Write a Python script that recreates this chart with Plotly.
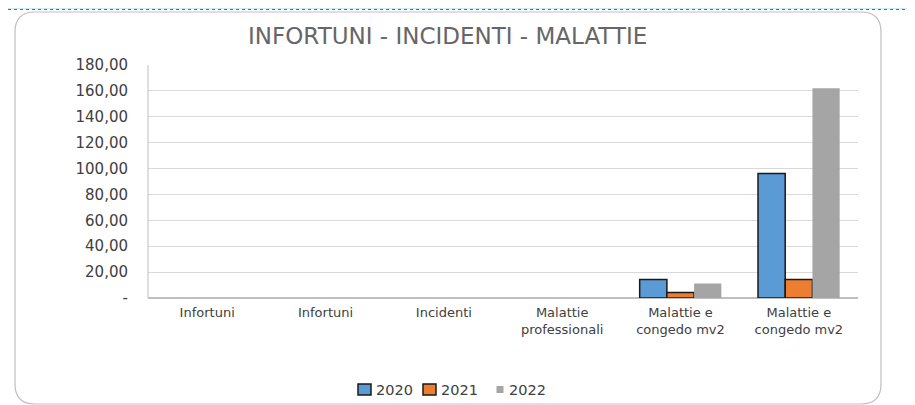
import plotly.graph_objects as go

categories = ["Infortuni", "Infortuni", "Incidenti", "Malattie<br>professionali",
              "Malattie e<br>congedo mv2", "Malattie e<br>congedo mv2"]
years = ["2020", "2021", "2022"]
v2020 = [0, 0, 0, 0, 14.3, 96.2]
v2021 = [0, 0, 0, 0, 4.2, 14.3]
v2022 = [0, 0, 0, 0, 11.2, 162.1]
y_tickvals = [0, 20, 40, 60, 80, 100, 120, 140, 160, 180]
y_ticktext = ["-", "20,00", "40,00", "60,00", "80,00", "100,00", "120,00", "140,00", "160,00", "180,00"]

# page body margin offsets the figure by 8px; work in screenshot pixels
OFF = 8
SW, SH = 915, 405
W, H = SW - OFF, SH - OFF
L, R, T, B = 148, 858, 65, 298  # plot area in screenshot pixels

def px(x):
    return (x - L) / (R - L)

def py(y):
    return (B - y) / (B - T)

FONT = "DejaVu Sans"
xs = list(range(len(categories)))
colors = ["#5B9BD5", "#ED7D31", "#A5A5A5"]
outline = [1.5, 1.5, 0]
series = [v2020, v2021, v2022]

fig = go.Figure()
for name, vals, c, lw in zip(years, series, colors, outline):
    fig.add_trace(go.Bar(
        x=xs, y=vals, name=name, showlegend=False,
        marker=dict(color=c, line=dict(color="#1a1a1a",
                                       width=[lw if v > 0 else 0 for v in vals])),
    ))

def rounded(x0, y0, x1, y1, r):
    X0, X1 = px(x0), px(x1)
    Y0, Y1 = py(y0), py(y1)
    rx = r / (R - L)
    ry = r / (B - T)
    return (f"M {X0+rx},{Y0} L {X1-rx},{Y0} Q {X1},{Y0} {X1},{Y0-ry} "
            f"L {X1},{Y1+ry} Q {X1},{Y1} {X1-rx},{Y1} "
            f"L {X0+rx},{Y1} Q {X0},{Y1} {X0},{Y1+ry} "
            f"L {X0},{Y0-ry} Q {X0},{Y0} {X0+rx},{Y0} Z")

shapes = [
    dict(type="rect", xref="paper", yref="paper", x0=px(OFF), x1=px(SW), y0=py(9), y1=py(OFF),
         fillcolor="#CFEAF6", line=dict(width=0), layer="below"),
    dict(type="line", xref="paper", yref="paper", x0=px(OFF), x1=px(SW), y0=py(9.5), y1=py(9.5),
         line=dict(color="#666666", width=1, dash="dot"), layer="below"),
    dict(type="path", xref="paper", yref="paper", path=rounded(15, 12, 881, 404, 20),
         fillcolor="white", line=dict(color="#BFBFBF", width=1.2), layer="below"),
    dict(type="line", xref="paper", yref="paper", x0=0, x1=0, y0=0, y1=1,
         line=dict(color="#BFBFBF", width=1)),
]

annotations = [dict(text="INFORTUNI - INCIDENTI - MALATTIE", xref="paper", yref="paper",
                    x=px(447), y=py(36), xanchor="center", yanchor="middle", showarrow=False,
                    font=dict(size=23, color="#666666", family=FONT))]

# manual legend (compact like the original)
leg_sq = [(358, 371, 384, 395), (423, 436, 384, 395), (496.5, 503.5, 386, 393)]
leg_tx = [374, 439, 507]
for name, c, lw, (x0, x1, y0, y1), tx in zip(years, colors, outline, leg_sq, leg_tx):
    shapes.append(dict(type="rect", xref="paper", yref="paper",
                       x0=px(x0), x1=px(x1), y0=py(y1), y1=py(y0), fillcolor=c,
                       line=dict(color="#1a1a1a", width=lw if lw else 0)))
    annotations.append(dict(text=name, xref="paper", yref="paper", x=px(tx), y=py(389.5),
                            xanchor="left", yanchor="middle", showarrow=False,
                            font=dict(size=14.5, color="#404040", family=FONT)))

fig.update_layout(
    width=W, height=H,
    margin=dict(l=L - OFF, r=W - (R - OFF), t=T - OFF, b=H - (B - OFF), autoexpand=False),
    paper_bgcolor="white", plot_bgcolor="rgba(0,0,0,0)",
    barmode="group", bargap=0.31, bargroupgap=0,
    font=dict(family=FONT, color="#404040"),
    showlegend=False,
    shapes=shapes,
    annotations=annotations,
    xaxis=dict(tickvals=xs, ticktext=categories, range=[-0.5, len(categories) - 0.5],
               showgrid=False, zeroline=False, showline=False, automargin=False,
               ticklabelstandoff=5,
               tickfont=dict(size=13, color="#404040")),
    yaxis=dict(range=[0, 180], tickvals=y_tickvals, ticktext=y_ticktext,
               showgrid=True, gridcolor="#D9D9D9", gridwidth=1, zeroline=True,
               zerolinecolor="#BFBFBF", zerolinewidth=1.5, showline=False, automargin=False,
               ticklabelstandoff=19, tickfont=dict(size=15, color="#404040")),
)

fig.write_html("out.html")
